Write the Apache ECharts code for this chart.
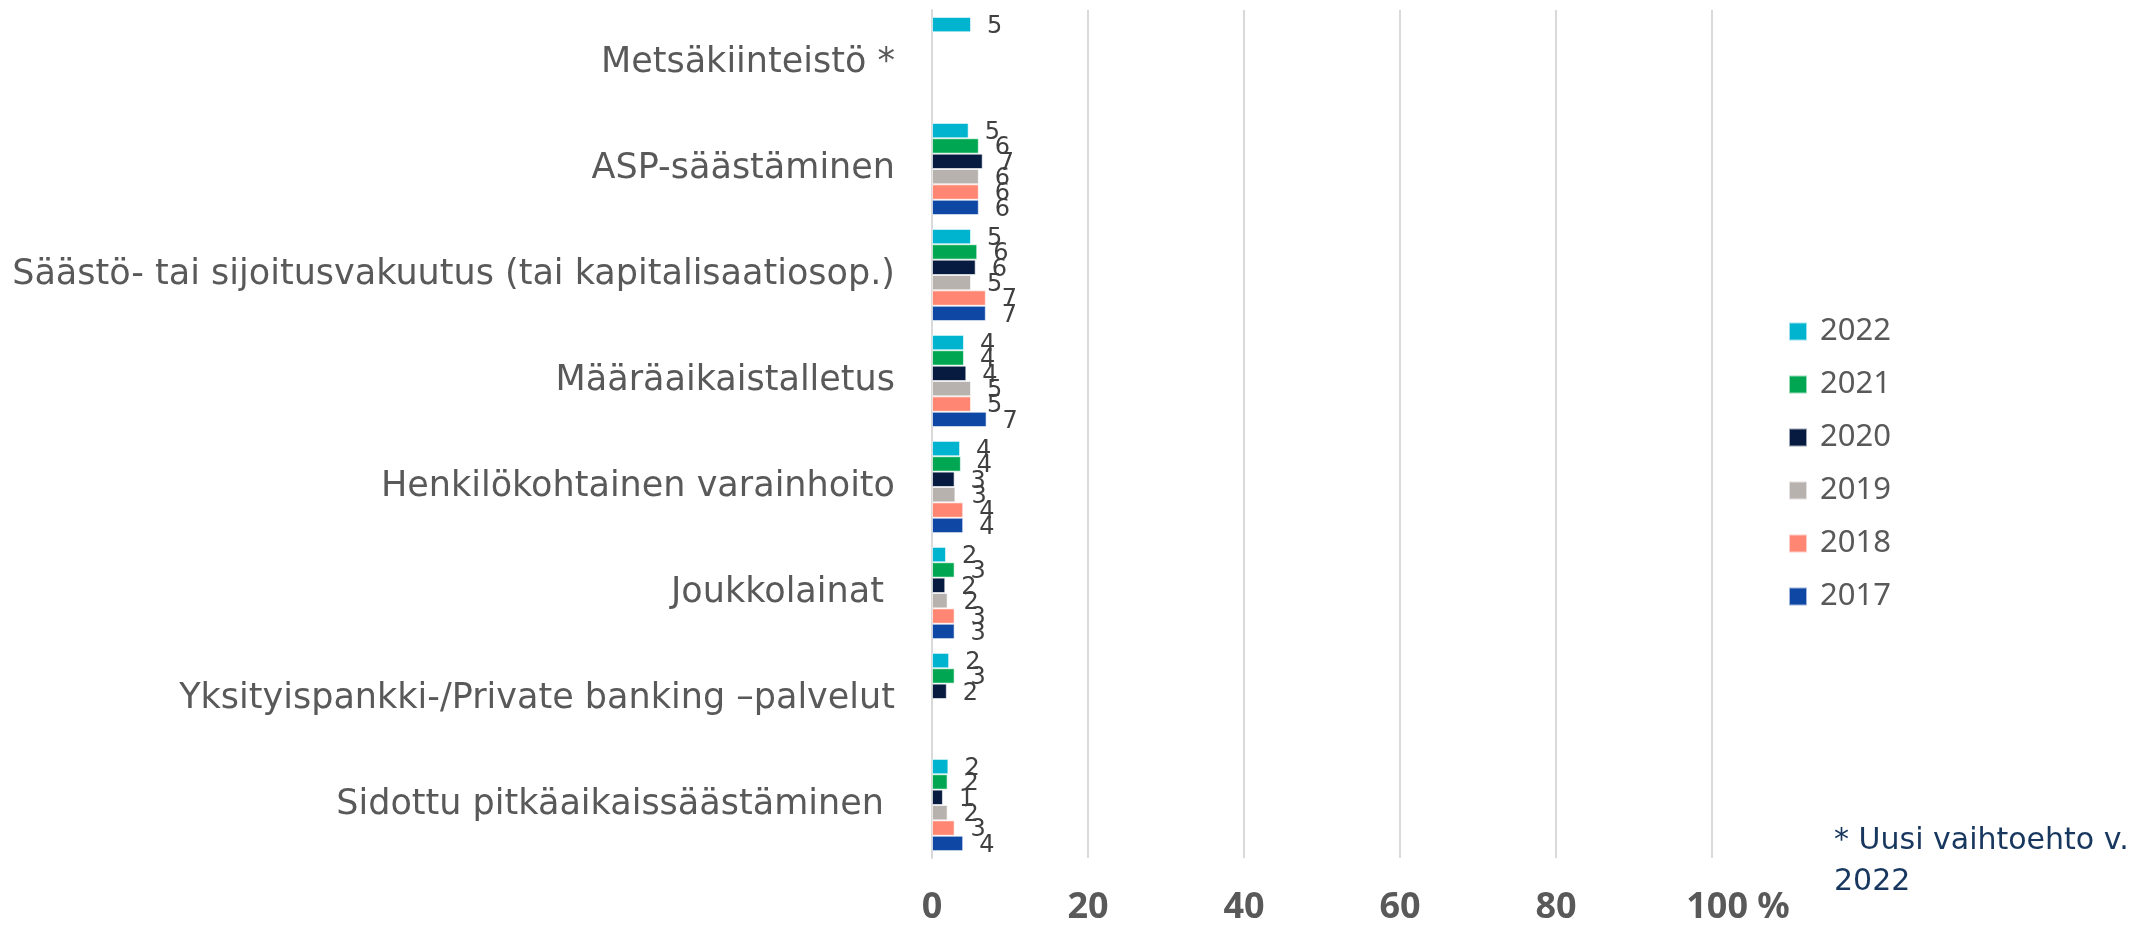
<!DOCTYPE html>
<html>
<head>
<meta charset="utf-8">
<script src="https://cdn.jsdelivr.net/npm/echarts@6/dist/echarts.min.js"></script>
<style>
  html, body { margin: 0; padding: 0; background: #fff; }
  #main { width: 2154px; height: 926px; }
</style>
</head>
<body>
<div id="main"></div>
<script>
const categories = [
  'Metsäkiinteistö *',
  'ASP-säästäminen',
  'Säästö- tai sijoitusvakuutus (tai kapitalisaatiosop.)',
  'Määräaikaistalletus',
  'Henkilökohtainen varainhoito',
  'Joukkolainat ',
  'Yksityispankki-/Private banking –palvelut',
  'Sidottu pitkäaikaissäästäminen '
]
const years = ['2022', '2021', '2020', '2019', '2018', '2017']
const colors = ['#00B4D0', '#00A651', '#071A40', '#B8B2AF', '#FF8672', '#0F47A4']

// luettu kuvasta, %
const v2022 = [5.0, 4.7, 5.0, 4.1, 3.6, 1.8, 2.2, 2.1]
const v2021 = [null, 6.0, 5.8, 4.1, 3.7, 2.9, 2.9, 2.0]
const v2020 = [null, 6.5, 5.6, 4.4, 2.9, 1.7, 1.9, 1.4]
const v2019 = [null, 6.0, 5.0, 5.0, 3.0, 2.0, null, 2.0]
const v2018 = [null, 6.0, 6.9, 5.0, 4.0, 2.9, null, 2.9]
const v2017 = [null, 6.0, 6.9, 7.0, 4.0, 2.9, null, 4.0]
const values = [v2022, v2021, v2020, v2019, v2018, v2017]

const xTicks = [0, 20, 40, 60, 80, 100]

const chart = echarts.init(document.getElementById('main'))

const series = years.map((y, i) => ({
  name: y,
  type: 'bar',
  barGap: '0%',
  barCategoryGap: '13%',
  itemStyle: { color: colors[i], borderColor: 'rgba(255,255,255,0.6)', borderWidth: 1 },
  label: {
    show: true,
    position: 'right',
    distance: 16,
    offset: [0, 2],
    color: '#404040',
    fontSize: 24,
    fontFamily: 'DejaVu Sans',
    formatter: p => p.value == null ? '' : Math.round(p.value)
  },
  data: values[i]
}))

const option = {
  animation: false,
  grid: { left: 932, width: 780, top: 10, height: 848 },
  legend: {
    orient: 'vertical',
    left: 1783,
    top: 311,
    icon: 'rect',
    itemWidth: 18,
    itemHeight: 18,
    itemGap: 22,
    data: years,
    textStyle: { color: '#595959', fontSize: 31, fontFamily: 'Noto Sans', padding: [0, 0, 0, 8] }
  },
  xAxis: {
    type: 'value',
    min: 0,
    max: 100,
    interval: 20,
    axisLine: { show: false },
    axisTick: { show: false },
    splitLine: { lineStyle: { color: '#D9D9D9', width: 2 } },
    axisLabel: {
      margin: 32,
      color: '#595959',
      fontSize: 36,
      fontWeight: 'bold',
      fontFamily: 'Noto Sans',
      formatter: v => xTicks.indexOf(v) < 0 ? '' : (v === 100 ? '{p|100 %}' : String(v)),
      rich: {
        p: { padding: [0, 0, 0, 52], fontSize: 36, fontWeight: 'bold', color: '#595959', fontFamily: 'Noto Sans' }
      }
    }
  },
  yAxis: {
    type: 'category',
    inverse: true,
    data: categories,
    axisLine: { show: true, lineStyle: { color: '#D9D9D9', width: 2 } },
    axisTick: { show: false },
    axisLabel: {
      margin: 37,
      color: '#595959',
      fontSize: 35,
      fontFamily: 'DejaVu Sans',
      padding: [6, 0, 0, 0]
    }
  },
  graphic: [{
    type: 'text',
    left: 1834,
    top: 821,
    style: {
      text: '* Uusi vaihtoehto v.\n2022',
      fill: '#17375E',
      font: '30px "DejaVu Sans"',
      lineHeight: 41
    }
  }],
  series: series
}

chart.setOption(option)
</script>
</body>
</html>
